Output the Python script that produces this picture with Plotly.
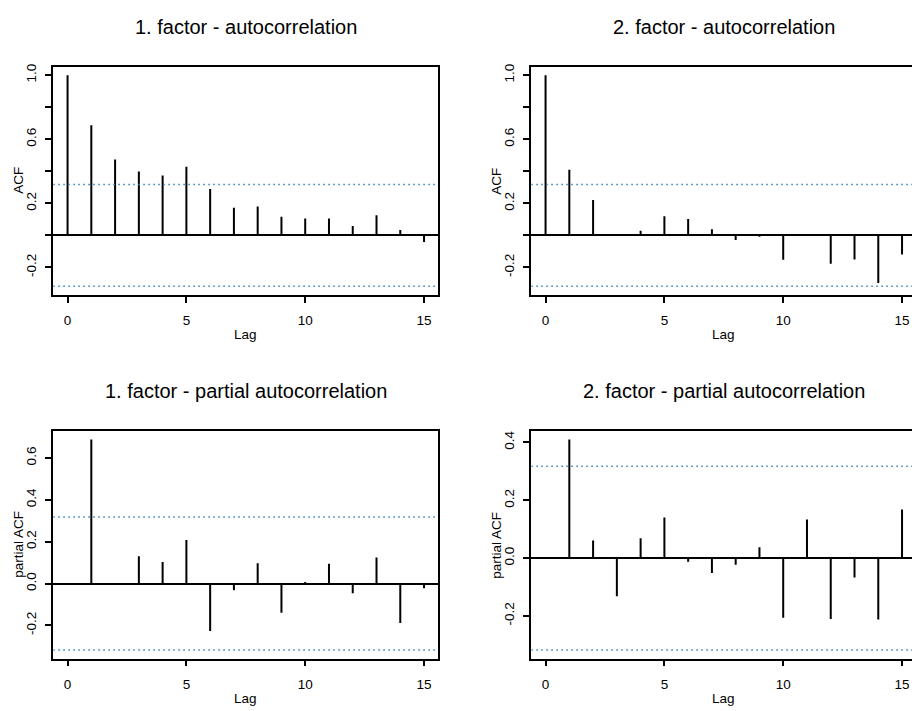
import plotly.graph_objects as go

# Autocorrelation estimates for the two factors
acf_lags = list(range(0, 16))
pacf_lags = list(range(1, 16))

acf_factor1 = [1.0, 0.688, 0.473, 0.398, 0.373, 0.429, 0.290, 0.173, 0.181,
               0.117, 0.106, 0.106, 0.058, 0.125, 0.033, -0.042]
acf_factor2 = [1.0, 0.410, 0.221, 0.002, 0.029, 0.119, 0.102, 0.038, -0.029,
               -0.008, -0.152, -0.002, -0.177, -0.150, -0.298, -0.119]
pacf_factor1 = [0.688, 0.003, 0.130, 0.103, 0.208, -0.227, -0.032, 0.097,
                -0.140, 0.008, 0.095, -0.046, 0.124, -0.189, -0.022]
pacf_factor2 = [0.410, 0.061, -0.132, 0.069, 0.141, -0.012, -0.051, -0.023,
                0.038, -0.206, 0.134, -0.210, -0.067, -0.212, 0.168]

# white-noise confidence bound
ci_bound = 0.318

titles = ["1. factor - autocorrelation", "2. factor - autocorrelation",
          "1. factor - partial autocorrelation", "2. factor - partial autocorrelation"]
y_titles = ["ACF", "ACF", "partial ACF", "partial ACF"]

acf_ticks = [-0.2, 0.0, 0.2, 0.4, 0.6, 0.8, 1.0]
acf_ticktext = ["-0.2", "", "0.2", "", "0.6", "", "1.0"]
pacf1_ticks = [-0.2, 0.0, 0.2, 0.4, 0.6]
pacf1_ticktext = ["-0.2", "0.0", "0.2", "0.4", "0.6"]
pacf2_ticks = [-0.2, 0.0, 0.2, 0.4]
pacf2_ticktext = ["-0.2", "0.0", "0.2", "0.4"]
x_ticks = [0, 5, 10, 15]

FONT = "Liberation Sans, Arial, Helvetica, sans-serif"
W, H = 912, 711

panels = [
    dict(lags=acf_lags, vals=acf_factor1, ticks=acf_ticks, ticktext=acf_ticktext, acf=True),
    dict(lags=acf_lags, vals=acf_factor2, ticks=acf_ticks, ticktext=acf_ticktext, acf=True),
    dict(lags=pacf_lags, vals=pacf_factor1, ticks=pacf1_ticks, ticktext=pacf1_ticktext, acf=False),
    dict(lags=pacf_lags, vals=pacf_factor2, ticks=pacf2_ticks, ticktext=pacf2_ticktext, acf=False),
]

# plot boxes in pixels: (left, right, top, bottom)
left_x = (53.3, 438.3)
right_x = (531.3, 912.0)
top_y = (64.0, 293.0)
bot_y = (430.0, 658.3)
boxes = [(left_x, top_y), (right_x, top_y), (left_x, bot_y), (right_x, bot_y)]

px_per_lag = (left_x[1] - left_x[0]) / 16.2

fig = go.Figure()
layout = dict(
    width=W, height=H,
    margin=dict(l=0, r=0, t=0, b=0),
    paper_bgcolor="white", plot_bgcolor="white",
    showlegend=False,
    font=dict(family=FONT, size=13.5, color="black"),
)
annotations = []

for i, (p, (bx, by)) in enumerate(zip(panels, boxes)):
    n = i + 1
    xa = "x" if n == 1 else f"x{n}"
    ya = "y" if n == 1 else f"y{n}"

    # stems from zero to each estimate
    xs, ys = [], []
    for lag, v in zip(p["lags"], p["vals"]):
        xs += [lag, lag, None]
        ys += [0, v, None]
    fig.add_trace(go.Scatter(x=xs, y=ys, mode="lines",
                             line=dict(color="black", width=2),
                             xaxis=xa, yaxis=ya, hoverinfo="skip"))

    # confidence bounds
    for b in (ci_bound, -ci_bound):
        fig.add_trace(go.Scatter(x=[-0.6, 15.6], y=[b, b], mode="lines",
                                 line=dict(color="#2f7fbf", width=1.5, dash="1.5px,3.5px"),
                                 xaxis=xa, yaxis=ya, hoverinfo="skip"))

    lo = min(-ci_bound, min(p["vals"]))
    hi = 1.0 if p["acf"] else max(ci_bound, max(p["vals"]))
    pad = 0.04 * (hi - lo)

    x_lo = -0.6
    x_hi = x_lo + (bx[1] - bx[0]) / px_per_lag
    is_right = n in (2, 4)

    layout[f"xaxis{'' if n == 1 else n}"] = dict(
        domain=[bx[0] / W, bx[1] / W], range=[x_lo, x_hi], anchor=ya,
        tickvals=x_ticks, ticks="outside", ticklen=6, tickwidth=1.5,
        tickcolor="black", showline=True, linecolor="black", linewidth=1.8,
        mirror=True, showgrid=False, zeroline=False,
        tickfont=dict(size=13.5), ticklabelstandoff=6,
    )
    layout[f"yaxis{'' if n == 1 else n}"] = dict(
        domain=[1 - by[1] / H, 1 - by[0] / H], range=[lo - pad, hi + pad], anchor=xa,
        tickvals=p["ticks"], ticktext=p["ticktext"], ticks="outside", ticklen=6,
        tickwidth=1.5, tickcolor="black", tickangle=-90,
        showline=True, linecolor="black", linewidth=1.8,
        mirror=False if is_right else True, showgrid=False,
        zeroline=True, zerolinecolor="black", zerolinewidth=2,
        tickfont=dict(size=13.5), ticklabelstandoff=4,
    )

    centre_px = bx[0] + (15.6 + 0.6) / 2 * px_per_lag
    annotations.append(dict(text=titles[i], x=centre_px / W, y=1 - (by[0] - 40) / H,
                            xref="paper", yref="paper", showarrow=False,
                            font=dict(size=20, family=FONT), xanchor="center", yanchor="middle"))
    annotations.append(dict(text="Lag", x=centre_px / W, y=1 - (by[1] + 40) / H,
                            xref="paper", yref="paper", showarrow=False,
                            font=dict(size=13.5, family=FONT), xanchor="center", yanchor="middle"))
    annotations.append(dict(text=y_titles[i], x=(bx[0] - 34.3) / W, y=1 - (by[0] + by[1]) / 2 / H,
                            xref="paper", yref="paper", showarrow=False, textangle=-90,
                            font=dict(size=13.5, family=FONT), xanchor="center", yanchor="middle"))

layout["annotations"] = annotations
fig.update_layout(**layout)
fig.write_html("out.html")
